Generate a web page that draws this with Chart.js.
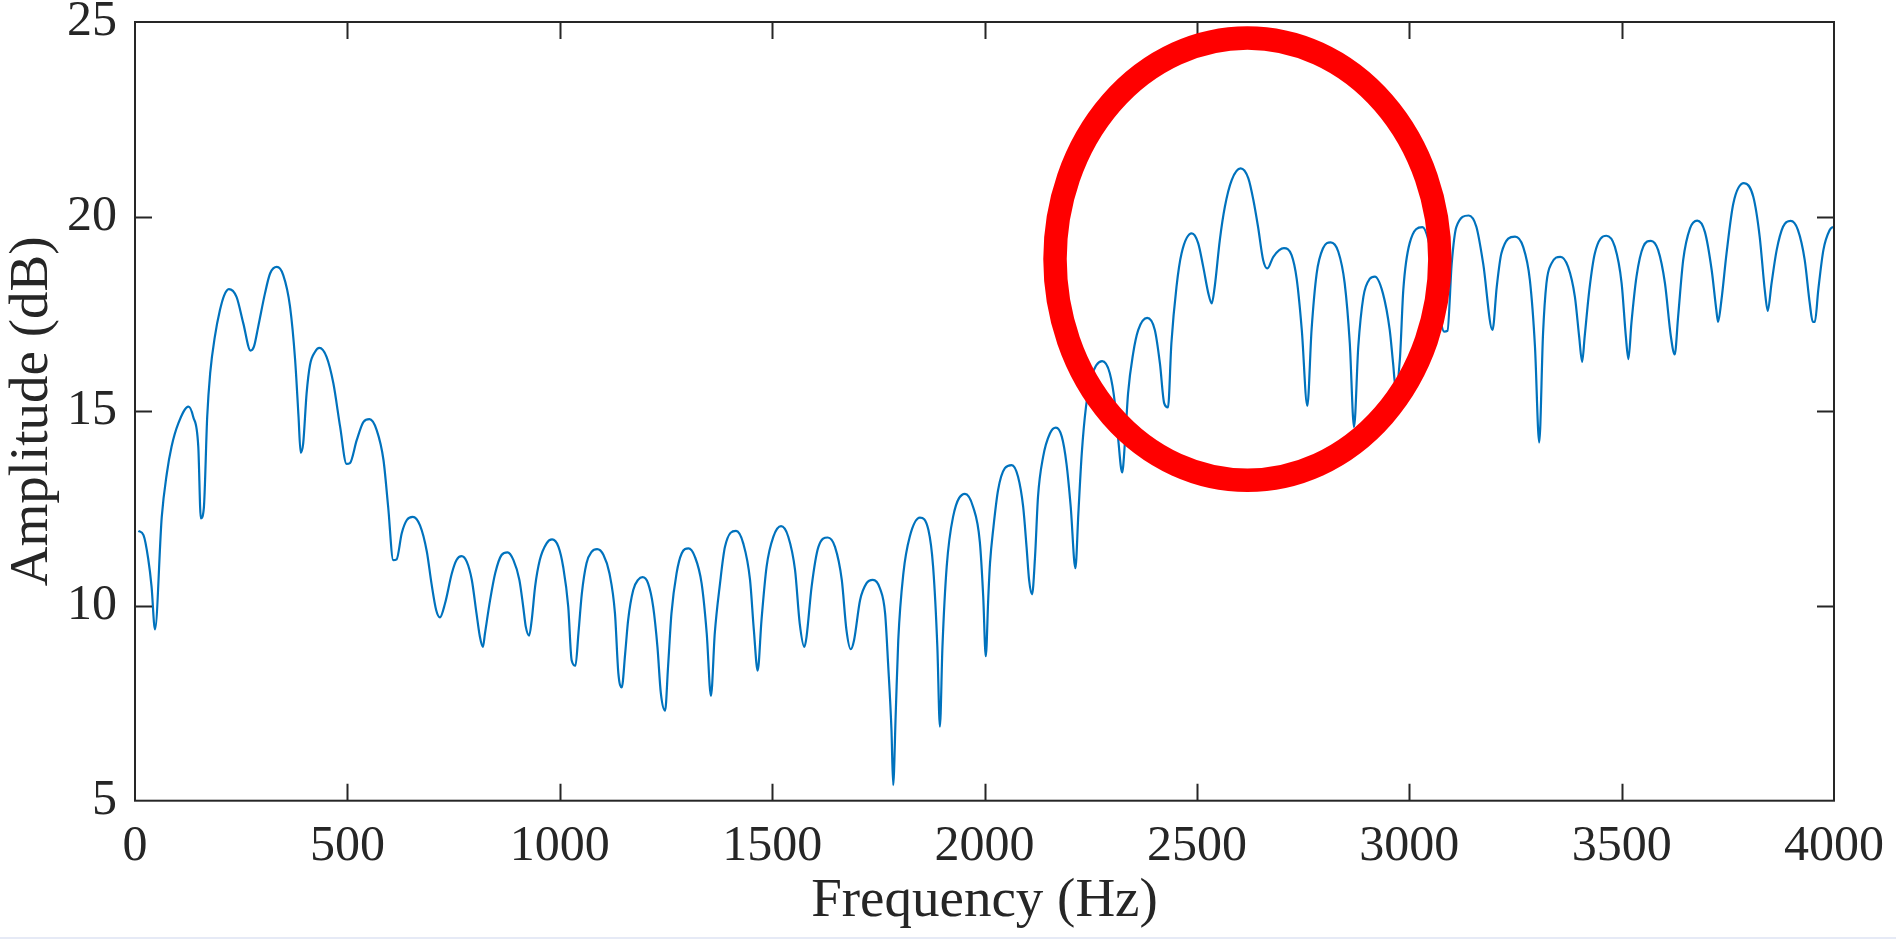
<!DOCTYPE html>
<html><head><meta charset="utf-8">
<script src="https://cdn.jsdelivr.net/npm/chart.js@4.4.1/dist/chart.umd.min.js"></script>
<style>html,body{margin:0;padding:0;background:#fff;overflow:hidden}#wrap{width:1896px;height:939px;position:relative}</style>
</head><body><div id="wrap"><canvas id="c" width="1896" height="939"></canvas></div>
<script>
const freqHz = [8,20,31,39,47,63,75,86,102,126,137,149,155,162,170,177,188,200,210,221,239,255,272,280,290,306,318,334,349,365,377,385,390,396,404,412,424,434,451,467,483,498,506,522,538,552,569,585,596,608,616,628,640,654,671,687,698,709,718,730,746,757,769,781,793,804,812,819,824,836,848,863,877,891,905,914,920,928,934,942,953,969,982,997,1008,1020,1028,1037,1044,1052,1063,1075,1088,1103,1117,1130,1138,1146,1154,1161,1173,1185,1195,1208,1220,1230,1238,1248,1255,1263,1275,1287,1303,1318,1334,1346,1356,1365,1377,1389,1415,1432,1448,1457,1466,1475,1487,1503,1521,1538,1554,1565,1576,1581,1593,1609,1631,1648,1664,1675,1685,1693,1707,1722,1737,1754,1766,1773,1781,1785,1791,1797,1809,1824,1848,1868,1879,1889,1895,1901,1911,1926,1954,1973,1989,1997,2003,2009,2013,2021,2032,2048,2064,2079,2091,2099,2105,2112,2119,2126,2138,2154,2168,2182,2193,2203,2214,2221,2229,2239,2252,2277,2295,2307,2315,2324,2331,2338,2350,2362,2383,2401,2413,2423,2432,2440,2452,2464,2488,2503,2515,2527,2535,2542,2554,2566,2582,2603,2621,2633,2644,2656,2666,2680,2705,2723,2735,2747,2760,2770,2782,2797,2815,2833,2848,2860,2870,2880,2892,2907,2919,2938,2954,2962,2968,2978,2986,3001,3031,3045,3058,3070,3082,3090,3100,3111,3140,3158,3174,3196,3206,3217,3249,3268,3284,3296,3306,3315,3323,3335,3356,3374,3390,3400,3407,3413,3424,3437,3464,3484,3500,3510,3516,3523,3535,3551,3569,3586,3602,3616,3625,3633,3645,3661,3678,3696,3712,3723,3727,3735,3747,3763,3788,3810,3825,3837,3844,3853,3865,3880,3898,3915,3931,3943,3950,3955,3963,3975,3990,3998];
const ampDb = [11.93,11.82,11.22,10.5,9.40,12.29,13.41,14.09,14.69,15.12,14.86,14.09,12.25,12.51,14.86,15.98,16.92,17.60,17.98,18.14,17.94,17.26,16.56,16.66,17.17,18.03,18.54,18.71,18.50,17.69,16.32,14.86,13.94,14.18,15.46,16.19,16.53,16.63,16.40,15.72,14.60,13.65,13.67,14.26,14.73,14.80,14.52,13.75,12.55,11.18,11.20,11.87,12.21,12.29,12.07,11.40,10.58,9.90,9.71,10.07,10.84,11.18,11.28,11.14,10.67,9.81,9.21,8.95,9.30,10.15,10.84,11.31,11.38,11.18,10.67,9.98,9.47,9.24,9.64,10.50,11.18,11.61,11.71,11.52,11.01,9.98,8.61,8.47,9.30,10.32,11.10,11.39,11.46,11.31,10.84,9.81,8.27,7.91,8.78,9.64,10.41,10.68,10.74,10.58,9.98,8.95,7.76,7.31,8.44,9.81,10.84,11.35,11.48,11.27,10.58,9.30,7.69,9.30,10.55,11.52,11.93,11.61,10.67,9.38,8.34,9.64,11.01,11.78,12.05,11.78,10.92,9.55,8.95,9.21,10.50,11.52,11.76,11.52,10.67,9.38,8.89,9.13,10.15,10.58,10.67,10.45,9.81,8.53,6.81,5.40,7.24,9.13,10.84,11.78,12.27,11.95,11.01,8.95,6.90,8.95,11.01,12.29,12.88,12.55,11.65,10.24,8.71,10.24,11.10,12.02,12.98,13.54,13.62,13.32,12.55,11.52,10.67,10.30,11.27,12.81,13.83,14.43,14.58,14.35,13.66,12.55,10.97,12.38,13.92,15.12,15.89,16.29,15.98,15.21,14.26,13.43,14.26,15.46,16.49,17.09,17.40,17.09,16.23,15.21,15.10,16.75,18.20,19.06,19.57,19.32,18.71,18.03,17.77,18.20,19.40,20.26,20.94,21.24,20.99,20.43,19.74,18.89,18.67,18.97,19.19,19.01,18.40,17.09,15.14,17.09,18.54,19.19,19.34,19.10,18.29,16.75,14.60,16.66,17.94,18.40,18.46,18.03,17.09,16.23,15.60,16.35,18.12,19.32,19.73,19.40,18.60,17.60,17.05,17.07,18.80,19.74,20.03,19.74,18.80,17.09,18.20,19.06,19.49,19.23,18.37,16.66,14.20,17.00,18.29,18.80,18.97,18.71,17.94,16.92,16.27,16.92,18.12,19.06,19.51,19.23,18.29,16.92,16.34,17.26,18.46,19.23,19.38,19.14,18.29,16.92,16.46,17.43,18.89,19.70,19.90,19.61,18.63,17.60,17.30,17.86,19.06,20.34,20.86,20.51,19.49,18.12,17.58,18.29,19.14,19.74,19.89,19.66,18.89,17.77,17.30,17.30,18.12,19.14,19.66,19.74];
const xTicks = [0,500,1000,1500,2000,2500,3000,3500,4000];
const yTicks = [5,10,15,20,25];
const xRange = [0,4000];
const yRange = [5,25];
const xTitle = 'Frequency (Hz)';
const yTitle = 'Amplitude (dB)';
const circleCenter = [2619, 18.91];
const circleRadius = [453, 5.68];

const INK = '#262626';
const FONT = "'Liberation Serif','Times New Roman',serif";

const frame = {
  id: 'frame',
  afterDatasetsDraw(chart) {
    const {ctx, chartArea: a, scales: {x, y}} = chart;
    const tl = 17;
    ctx.save();
    ctx.strokeStyle = INK;
    ctx.lineWidth = 2;
    ctx.beginPath();
    x.ticks.forEach(t => {
      const p = Math.round(x.getPixelForValue(t.value)) + 0.5;
      if (p <= a.left + 1 || p >= a.right - 1) return;
      ctx.moveTo(p, a.bottom); ctx.lineTo(p, a.bottom - tl);
      ctx.moveTo(p, a.top); ctx.lineTo(p, a.top + tl);
    });
    y.ticks.forEach(t => {
      const p = Math.round(y.getPixelForValue(t.value)) + 0.5;
      if (p <= a.top + 1 || p >= a.bottom - 1) return;
      ctx.moveTo(a.left, p); ctx.lineTo(a.left + tl, p);
      ctx.moveTo(a.right, p); ctx.lineTo(a.right - tl, p);
    });
    ctx.stroke();
    ctx.strokeRect(a.left, a.top, a.right - a.left, a.bottom - a.top);
    ctx.restore();
  },
  afterDraw(chart) {
    const {ctx, scales: {x, y}} = chart;
    const cx = x.getPixelForValue(circleCenter[0]);
    const cy = y.getPixelForValue(circleCenter[1]);
    const rx = x.getPixelForValue(circleCenter[0] + circleRadius[0]) - cx;
    const ry = cy - y.getPixelForValue(circleCenter[1] + circleRadius[1]);
    ctx.save();
    ctx.strokeStyle = '#FF0000';
    ctx.lineWidth = 23.5;
    ctx.beginPath();
    ctx.ellipse(cx, cy, rx, ry, 0, 0, Math.PI * 2);
    ctx.stroke();
    ctx.fillStyle = '#e6eaf6';
    ctx.fillRect(0, chart.height - 2, chart.width, 2);
    ctx.restore();
  }
};

new Chart(document.getElementById('c'), {
  type: 'line',
  data: {
    datasets: [{
      data: freqHz.map((f, i) => ({x: f, y: ampDb[i]})),
      borderColor: '#0072BD',
      borderWidth: 2.2,
      pointRadius: 0,
      cubicInterpolationMode: 'monotone',
      fill: false
    }]
  },
  options: {
    responsive: false,
    animation: false,
    devicePixelRatio: 1,
    layout: {padding: {top: 22, right: 62, left: 0, bottom: 0}},
    plugins: {legend: {display: false}, tooltip: {enabled: false}},
    scales: {
      x: {
        type: 'linear', min: xRange[0], max: xRange[1],
        afterBuildTicks: s => { s.ticks = xTicks.map(v => ({value: v})); },
        afterFit: s => { s.height = 138.3; s.paddingLeft = 0; s.paddingRight = 0; },
        grid: {display: false, drawTicks: false},
        border: {display: false},
        ticks: {font: {family: FONT, size: 50}, color: INK, padding: 16, maxRotation: 0, autoSkip: false, callback: v => String(v)},
        title: {display: true, text: xTitle, font: {family: FONT, size: 55}, color: INK, padding: {top: 0, bottom: 4}}
      },
      y: {
        type: 'linear', min: yRange[0], max: yRange[1],
        afterBuildTicks: s => { s.ticks = yTicks.map(v => ({value: v})); },
        afterFit: s => { s.width = 135; s.paddingTop = 0; s.paddingBottom = 0; },
        grid: {display: false, drawTicks: false},
        border: {display: false},
        ticks: {font: {family: FONT, size: 50}, color: INK, padding: 18, autoSkip: false, callback: v => String(v)},
        title: {display: true, text: yTitle, font: {family: FONT, size: 55}, color: INK, padding: {top: 0, bottom: 0}}
      }
    }
  },
  plugins: [frame]
});
</script></body></html>
